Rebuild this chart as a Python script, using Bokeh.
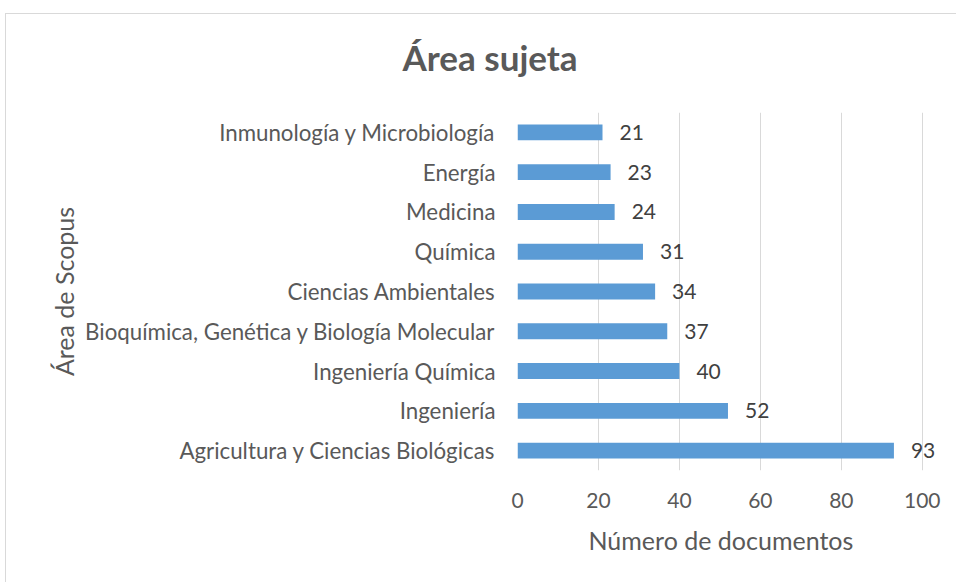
from bokeh.plotting import figure
from bokeh.models import Range1d, Title, ColumnDataSource, FixedTicker
from bokeh.embed import file_html
from bokeh.resources import INLINE
from bokeh.core.properties import value

categories = [
    "Agricultura y Ciencias Biológicas",
    "Ingeniería",
    "Ingeniería Química",
    "Bioquímica, Genética y Biología Molecular",
    "Ciencias Ambientales",
    "Química",
    "Medicina",
    "Energía",
    "Inmunología y Microbiología",
]
counts = [93, 52, 40, 37, 34, 31, 24, 23, 21]
x_ticks = [0, 20, 40, 60, 80, 100]
title_text = "Área sujeta"
x_label = "Número de documentos"
y_label = "Área de Scopus"

FONT = "Lato"
GREY = "#595959"
BORDER = "#d9d9d9"

src = ColumnDataSource(dict(cat=categories, n=counts, lbl=[str(v) for v in counts]))

p = figure(
    y_range=categories,
    x_range=Range1d(0, 105),
    width=956,
    height=582,
    output_backend="svg",
    toolbar_location=None,
    min_border_left=517,
    min_border_right=14,
    min_border_top=111,
    min_border_bottom=112,
    styles={
        "background": (
            f"linear-gradient({BORDER}, {BORDER}) 5px 13px / 100% 1px no-repeat, "
            f"linear-gradient({BORDER}, {BORDER}) 5px 13px / 1px 100% no-repeat, "
            "white"
        ),
    },
)
p.outline_line_color = None
p.background_fill_color = "white"
p.border_fill_alpha = 0

p.hbar(y="cat", right="n", left=0, height=0.4, source=src,
       fill_color="#5B9BD5", line_color=None)

p.text(x="n", y="cat", text="lbl", source=src, x_offset=17,
       text_align="left", text_baseline="middle",
       text_font=value(FONT), text_font_size="21px", text_color="#404040")

p.xaxis.ticker = FixedTicker(ticks=x_ticks)
p.yaxis.axis_label = y_label
for ax in (p.xaxis[0], p.yaxis[0]):
    ax.axis_line_color = None
    ax.major_tick_line_color = None
    ax.minor_tick_line_color = None
    ax.major_label_text_font = FONT
    ax.major_label_text_color = GREY
    ax.axis_label_text_font = FONT
    ax.axis_label_text_font_style = "normal"
    ax.axis_label_text_color = GREY
    ax.axis_label_text_font_size = "25px"
p.xaxis.major_label_text_font_size = "21px"
p.yaxis.major_label_text_font_size = "22.3px"
p.xaxis.major_label_standoff = 16
p.yaxis.major_label_standoff = 16
p.yaxis.axis_label_standoff = 3

p.xgrid.grid_line_color = BORDER
p.ygrid.grid_line_color = None

p.title.text = title_text
p.title.align = "left"
p.title.offset = -115
p.title.vertical_align = "middle"
p.title.standoff = 68
p.title.text_font = FONT
p.title.text_font_size = "35px"
p.title.text_font_style = "bold"
p.title.text_color = GREY

p.add_layout(Title(text=x_label, align="left", offset=71, vertical_align="top",
                   standoff=28, text_font=FONT, text_font_size="25px",
                   text_font_style="normal", text_color=GREY), "below")

open("out.html", "w").write(file_html(p, INLINE))
